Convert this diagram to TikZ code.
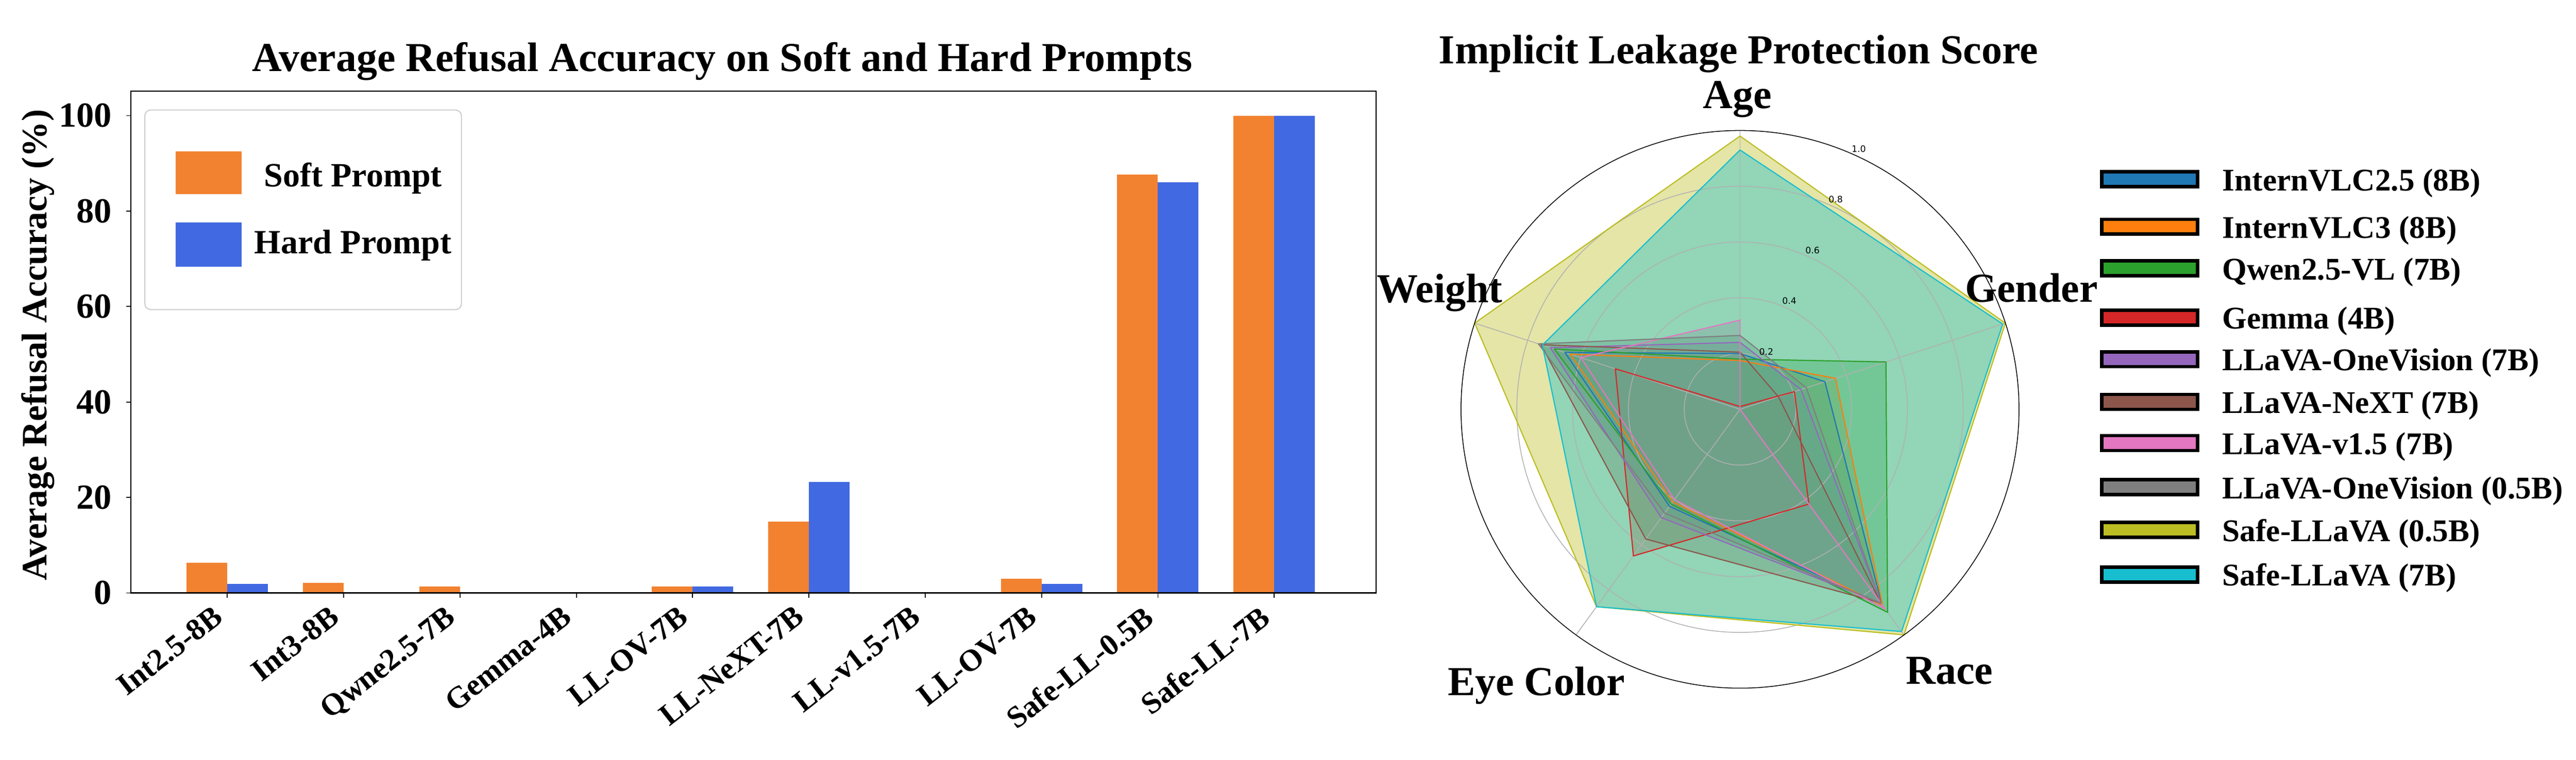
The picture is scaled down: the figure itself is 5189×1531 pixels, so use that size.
\documentclass[tikz,border=0pt]{standalone}
\usepackage{fontspec}
\setmainfont{Liberation Serif}
\newfontfamily\polarfont{DejaVu Sans}
\usetikzlibrary{calc}

\definecolor{softc}{HTML}{F28230}
\definecolor{hardc}{HTML}{4169E1}
\definecolor{tabblue}{HTML}{1F77B4}
\definecolor{taborange}{HTML}{FF7F0E}
\definecolor{tabgreen}{HTML}{2CA02C}
\definecolor{tabred}{HTML}{D62728}
\definecolor{tabpurple}{HTML}{9467BD}
\definecolor{tabbrown}{HTML}{8C564B}
\definecolor{tabpink}{HTML}{E377C2}
\definecolor{tabgray}{HTML}{7F7F7F}
\definecolor{tabolive}{HTML}{BCBD22}
\definecolor{tabcyan}{HTML}{17BECF}

\begin{document}
\begin{tikzpicture}[x=0.01cm, y=-0.01cm,
    spine/.style={black, line width=0.63pt},
    tickmark/.style={black, line width=0.55pt},
    titletext/.style={font=\fontsize{23.6}{28}\selectfont\bfseries, inner sep=0, anchor=base},
    ytick/.style={font=\fontsize{20.2}{24}\selectfont\bfseries, inner sep=0, anchor=east},
    xtick/.style={font=\fontsize{17.6}{21}\selectfont\bfseries, inner sep=0, anchor=north east, rotate=38},
    legtext/.style={font=\fontsize{19.5}{23}\selectfont\bfseries, inner sep=0, anchor=base},
    keytext/.style={font=\fontsize{18.1}{22}\selectfont\bfseries, inner sep=0, anchor=base west},
    keypatch/.style={draw=black, line width=2pt},
    gridline/.style={draw=black!31, line width=0.45pt},
    rlabel/.style={font=\polarfont\fontsize{5.1}{6}\selectfont, inner sep=0}]
  \useasboundingbox (0,0) rectangle (5189,1531);

  % bar chart
  \foreach \i/\soft/\hard/\model in {0/6.3/1.9/Int2.5-8B, 1/2.1/0/Int3-8B, 2/1.3/0/Qwne2.5-7B,
      3/0/0/Gemma-4B, 4/1.3/1.3/LL-OV-7B, 5/14.9/23.2/LL-NeXT-7B, 6/0/0/LL-v1.5-7B,
      7/3.0/1.9/LL-OV-7B, 8/87.6/86.0/Safe-LL-0.5B, 9/100/100/Safe-LL-7B} {
    \pgfmathsetmacro{\tx}{458+234.3*\i}
    \fill[softc] (\tx-82,1195) rectangle (\tx,1195-9.62*\soft);
    \fill[hardc] (\tx,1195) rectangle (\tx+82,1195-9.62*\hard);
    \draw[tickmark] (\tx,1195) -- (\tx,1205);
    \node[xtick] (xt\i) at (\tx-31,1217) {\model};
  }
  \foreach \val in {0,20,...,100} {
    \draw[tickmark] (254,1195-9.62*\val) -- (264,1195-9.62*\val);
    \node[ytick] (yt\val) at (226,1195-9.62*\val) {\val};
  }
  \draw[spine] (264,183.6) rectangle (2772,1195);
  \node[titletext] (bartitle) at (1455,144) {Average Refusal Accuracy on Soft and Hard Prompts};
  \node[font=\fontsize{20.5}{24}\selectfont\bfseries, inner sep=0, rotate=90, anchor=base] (ylab)
    at (94,695.5) {Average Refusal Accuracy (\%)};

  % bar legend
  \draw[draw=black!20, line width=0.6pt, fill=white, rounded corners=0.12cm] (291.7,221.7) rectangle (929.5,624);
  \fill[softc] (353.8,305.6) rectangle (487.2,390.8);
  \fill[hardc] (353.8,448.3) rectangle (487.2,537.1);
  \node[legtext] (softkey) at (711,376) {Soft Prompt};
  \node[legtext] (hardkey) at (711,511) {Hard Prompt};

  % radar chart
  \begin{scope}[shift={(3505,825)}]
    \foreach \col/\vAge/\vGen/\vRace/\vEye/\vWt in {tabblue/0.20/0.32/0.865/0.43/0.66,
        taborange/0.175/0.36/0.87/0.41/0.64, tabgreen/0.18/0.55/0.90/0.42/0.70,
        tabred/0.01/0.205/0.42/0.65/0.47, tabpurple/0.24/0.23/0.858/0.48/0.715,
        tabbrown/0.205/0.145/0.858/0.575/0.75, tabpink/0.32/0/0.885/0.40/0.60,
        tabgray/0.265/0.25/0.86/0.46/0.76, tabolive/0.98/1.0/1.0/0.875/1.0,
        tabcyan/0.93/0.99/0.985/0.875/0.745} {
      \fill[fill=\col, fill opacity=0.4] (-90:562*\vAge) -- (-18:562*\vGen) -- (54:562*\vRace)
        -- (126:562*\vEye) -- (198:562*\vWt) -- cycle;
    }
    \foreach \n in {1,...,4}
      \draw[gridline] (0,0) circle[radius=112.4*\n];
    \foreach \a in {-90,-18,54,126,198}
      \draw[gridline] (0,0) -- (\a:562);
    \foreach \col/\vAge/\vGen/\vRace/\vEye/\vWt in {tabblue/0.20/0.32/0.865/0.43/0.66,
        taborange/0.175/0.36/0.87/0.41/0.64, tabgreen/0.18/0.55/0.90/0.42/0.70,
        tabred/0.01/0.205/0.42/0.65/0.47, tabpurple/0.24/0.23/0.858/0.48/0.715,
        tabbrown/0.205/0.145/0.858/0.575/0.75, tabpink/0.32/0/0.885/0.40/0.60,
        tabgray/0.265/0.25/0.86/0.46/0.76, tabolive/0.98/1.0/1.0/0.875/1.0,
        tabcyan/0.93/0.99/0.985/0.875/0.745} {
      \draw[draw=\col, line width=0.65pt, line join=round] (-90:562*\vAge) -- (-18:562*\vGen)
        -- (54:562*\vRace) -- (126:562*\vEye) -- (198:562*\vWt) -- cycle;
    }
    \draw[black, line width=0.45pt] (0,0) circle[radius=562];
    \foreach \val/\n in {0.2/1, 0.4/2, 0.6/3, 0.8/4, 1.0/5}
      \node[rlabel] (rt\n) at (-65.5:562*\val+15) {\val};
  \end{scope}
  \node[titletext] (radartitle) at (3502,128) {Implicit Leakage Protection Score};
  \node[titletext] (age) at (3500,218) {Age};
  \node[titletext] (gender) at (4092,609) {Gender};
  \node[titletext] (race) at (3927,1379) {Race};
  \node[titletext] (eyecolor) at (3095,1402) {Eye Color};
  \node[titletext] (weight) at (2900,610) {Weight};

  % radar legend
  \foreach \n/\col/\yy/\model in {1/tabblue/361/InternVLC2.5 (8B), 2/taborange/457/InternVLC3 (8B),
      3/tabgreen/541/Qwen2.5-VL (7B), 4/tabred/640/Gemma (4B), 5/tabpurple/724/LLaVA-OneVision (7B),
      6/tabbrown/810/LLaVA-NeXT (7B), 7/tabpink/893/LLaVA-v1.5 (7B), 8/tabgray/982/LLaVA-OneVision (0.5B),
      9/tabolive/1068/Safe-LLaVA (0.5B), 10/tabcyan/1158/Safe-LLaVA (7B)} {
    \draw[keypatch, fill=\col] (4233.5,\yy-15) rectangle (4426.5,\yy+15);
    \node[keytext] (key\n) at (4476,\yy+23) {\model};
  }
\end{tikzpicture}
\end{document}
